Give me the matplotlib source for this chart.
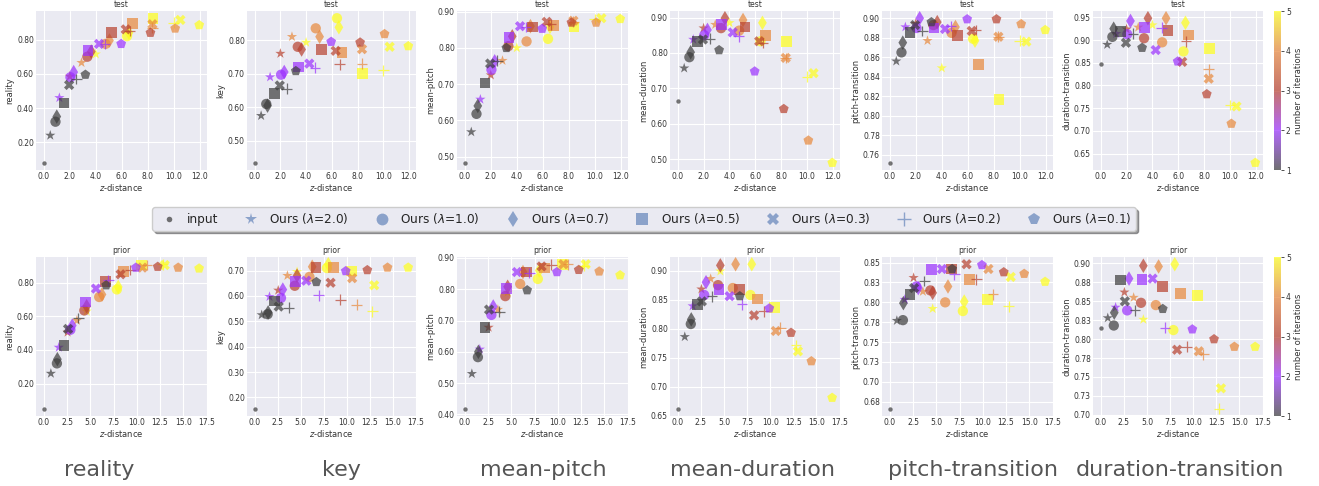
import numpy as np
import matplotlib
matplotlib.use("Agg")
import matplotlib.pyplot as plt
from matplotlib.colors import LinearSegmentedColormap
from matplotlib.lines import Line2D
from matplotlib.ticker import MultipleLocator, FormatStrFormatter
import seaborn as sns

sns.set_style("darkgrid")
plt.rcParams['font.family'] = ['DejaVu Sans']

# ---------------- data ----------------
lambdas = ["2.0", "1.0", "0.7", "0.5", "0.3", "0.2", "0.1"]
markers = ["*", "o", "d", "s", "X", "+", "p"]
iterations = [1, 2, 3, 4, 5]
metrics = ["reality", "key", "mean-pitch", "mean-duration", "pitch-transition", "duration-transition"]

# z-distance per lambda (iterations 1..5)
z_test = {
    "2.0": [0.5, 1.2, 2.0, 2.9, 4.0],
    "1.0": [0.9, 2.05, 3.35, 4.75, 6.4],
    "0.7": [1.0, 2.3, 3.65, 5.05, 6.55],
    "0.5": [1.55, 3.4, 5.2, 6.8, 8.4],
    "0.3": [1.95, 4.25, 6.3, 8.35, 10.5],
    "0.2": [2.5, 4.7, 6.6, 8.35, 10.0],
    "0.1": [3.2, 5.95, 8.2, 10.1, 11.95],
}
z_prior = {
    "2.0": [0.75, 1.6, 2.55, 3.55, 4.6],
    "1.0": [1.4, 2.85, 4.35, 5.95, 7.85],
    "0.7": [1.45, 3.05, 4.6, 6.25, 8.0],
    "0.5": [2.15, 4.45, 6.65, 8.6, 10.5],
    "0.3": [2.6, 5.6, 8.25, 10.6, 13.0],
    "0.2": [3.7, 6.95, 9.3, 11.1, 12.8],
    "0.1": [6.7, 9.9, 12.25, 14.45, 16.7],
}

# test row values
test_input = [0.08, 0.435, 0.483, 0.663, 0.752, 0.848]
test_reality = {
    "2.0": [0.24, 0.46, 0.585, 0.665, 0.715],
    "1.0": [0.32, 0.58, 0.70, 0.775, 0.82],
    "0.7": [0.35, 0.61, 0.73, 0.795, 0.84],
    "0.5": [0.43, 0.735, 0.84, 0.895, 0.925],
    "0.3": [0.535, 0.775, 0.86, 0.89, 0.915],
    "0.2": [0.57, 0.775, 0.85, 0.87, 0.90],
    "0.1": [0.595, 0.775, 0.84, 0.865, 0.885],
}
test_key = {
    "2.0": [0.575, 0.69, 0.76, 0.81, 0.793],
    "1.0": [0.61, 0.697, 0.78, 0.835, 0.865],
    "0.7": [0.605, 0.705, 0.772, 0.81, 0.838],
    "0.5": [0.64, 0.72, 0.772, 0.762, 0.70],
    "0.3": [0.665, 0.73, 0.768, 0.773, 0.78],
    "0.2": [0.655, 0.718, 0.728, 0.73, 0.71],
    "0.1": [0.708, 0.795, 0.793, 0.818, 0.782],
}
test_mean_pitch = {
    "2.0": [0.568, 0.658, 0.725, 0.765, 0.80],
    "1.0": [0.618, 0.74, 0.805, 0.818, 0.825],
    "0.7": [0.64, 0.763, 0.832, 0.86, 0.858],
    "0.5": [0.703, 0.828, 0.858, 0.862, 0.858],
    "0.3": [0.757, 0.86, 0.872, 0.875, 0.882],
    "0.2": [0.765, 0.858, 0.865, 0.872, 0.88],
    "0.1": [0.80, 0.853, 0.87, 0.87, 0.88],
}
test_mean_duration = {
    "2.0": [0.757, 0.838, 0.87, 0.88, 0.885],
    "1.0": [0.788, 0.85, 0.87, 0.863, 0.833],
    "0.7": [0.802, 0.865, 0.898, 0.893, 0.885],
    "0.5": [0.832, 0.88, 0.873, 0.85, 0.832],
    "0.3": [0.838, 0.858, 0.833, 0.786, 0.743],
    "0.2": [0.84, 0.847, 0.828, 0.786, 0.733],
    "0.1": [0.808, 0.748, 0.642, 0.553, 0.49],
}
test_pitch_transition = {
    "2.0": [0.856, 0.891, 0.8945, 0.877, 0.849],
    "1.0": [0.865, 0.890, 0.893, 0.885, 0.879],
    "0.7": [0.875, 0.900, 0.896, 0.891, 0.877],
    "0.5": [0.885, 0.890, 0.882, 0.853, 0.817],
    "0.3": [0.893, 0.889, 0.887, 0.881, 0.876],
    "0.2": [0.887, 0.892, 0.888, 0.881, 0.877],
    "0.1": [0.896, 0.899, 0.899, 0.894, 0.888],
}
test_duration_transition = {
    "2.0": [0.890, 0.914, 0.924, 0.928, 0.933],
    "1.0": [0.907, 0.913, 0.904, 0.895, 0.875],
    "0.7": [0.925, 0.942, 0.948, 0.948, 0.938],
    "0.5": [0.919, 0.927, 0.921, 0.911, 0.882],
    "0.3": [0.894, 0.878, 0.852, 0.815, 0.754],
    "0.2": [0.914, 0.927, 0.897, 0.836, 0.757],
    "0.1": [0.883, 0.853, 0.781, 0.716, 0.630],
}

# prior row values
prior_input = [0.05, 0.155, 0.418, 0.662, 0.666, 0.815]
prior_reality = {
    "2.0": [0.26, 0.415, 0.505, 0.575, 0.63],
    "1.0": [0.32, 0.52, 0.635, 0.715, 0.76],
    "0.7": [0.345, 0.545, 0.66, 0.73, 0.775],
    "0.5": [0.425, 0.685, 0.805, 0.865, 0.905],
    "0.3": [0.525, 0.765, 0.85, 0.89, 0.905],
    "0.2": [0.59, 0.815, 0.875, 0.905, 0.91],
    "0.1": [0.785, 0.89, 0.895, 0.89, 0.885],
}
prior_key = {
    "2.0": [0.525, 0.597, 0.622, 0.68, 0.695],
    "1.0": [0.528, 0.592, 0.64, 0.675, 0.71],
    "0.7": [0.535, 0.625, 0.68, 0.715, 0.725],
    "0.5": [0.58, 0.658, 0.712, 0.712, 0.698],
    "0.3": [0.558, 0.66, 0.652, 0.67, 0.642],
    "0.2": [0.553, 0.602, 0.585, 0.565, 0.54],
    "0.1": [0.655, 0.698, 0.702, 0.712, 0.712],
}
prior_mean_pitch = {
    "2.0": [0.53, 0.608, 0.678, 0.735, 0.79],
    "1.0": [0.583, 0.718, 0.778, 0.817, 0.833],
    "0.7": [0.60, 0.745, 0.808, 0.855, 0.86],
    "0.5": [0.678, 0.803, 0.855, 0.868, 0.878],
    "0.3": [0.735, 0.855, 0.873, 0.88, 0.88],
    "0.2": [0.728, 0.852, 0.878, 0.88, 0.875],
    "0.1": [0.797, 0.855, 0.862, 0.857, 0.845],
}
prior_mean_duration = {
    "2.0": [0.786, 0.839, 0.868, 0.886, 0.899],
    "1.0": [0.808, 0.858, 0.875, 0.870, 0.858],
    "0.7": [0.816, 0.880, 0.909, 0.911, 0.911],
    "0.5": [0.841, 0.868, 0.867, 0.851, 0.836],
    "0.3": [0.847, 0.856, 0.823, 0.796, 0.761],
    "0.2": [0.856, 0.842, 0.830, 0.802, 0.771],
    "0.1": [0.856, 0.835, 0.793, 0.744, 0.681],
}
prior_pitch_transition = {
    "2.0": [0.777, 0.8035, 0.831, 0.8136, 0.792],
    "1.0": [0.7776, 0.820, 0.815, 0.800, 0.789],
    "0.7": [0.799, 0.818, 0.812, 0.820, 0.801],
    "0.5": [0.810, 0.841, 0.842, 0.829, 0.804],
    "0.3": [0.818, 0.842, 0.848, 0.842, 0.832],
    "0.2": [0.827, 0.8355, 0.829, 0.810, 0.795],
    "0.1": [0.842, 0.847, 0.838, 0.836, 0.826],
}
prior_duration_transition = {
    "2.0": [0.828, 0.842, 0.862, 0.855, 0.826],
    "1.0": [0.818, 0.838, 0.848, 0.845, 0.812],
    "0.7": [0.835, 0.880, 0.897, 0.896, 0.899],
    "0.5": [0.878, 0.879, 0.870, 0.860, 0.858],
    "0.3": [0.850, 0.880, 0.786, 0.784, 0.735],
    "0.2": [0.838, 0.815, 0.790, 0.780, 0.708],
    "0.1": [0.840, 0.813, 0.800, 0.790, 0.790],
}

test_vals = [test_reality, test_key, test_mean_pitch, test_mean_duration,
             test_pitch_transition, test_duration_transition]
prior_vals = [prior_reality, prior_key, prior_mean_pitch, prior_mean_duration,
              prior_pitch_transition, prior_duration_transition]

test_ystep = [0.2, 0.1, 0.1, 0.1, 0.02, 0.05]
prior_ystep = [0.2, 0.1, 0.1, 0.05, 0.025, 0.025]

# ---------------- style ----------------
cmap = LinearSegmentedColormap.from_list(
    "iters", ["#3c3c3c", "#9b30ff", "#b8402e", "#e8873a", "#ffff1a"])
ALPHA = 0.7

W, H = 1319, 486
fig = plt.figure(figsize=(W / 100, H / 100), dpi=100)
fig.patch.set_facecolor("white")

xs = [(36, 207), (247, 416), (457, 628), (670, 840), (882, 1053), (1093, 1263)]
rows = [(11, 170), (257, 416)]


def px_axes(x0, x1, y0, y1):
    return fig.add_axes([x0 / W, 1 - y1 / H, (x1 - x0) / W, (y1 - y0) / H])


sc_last = None
for r, (row_name, zd, vals, inp, steps) in enumerate([
        ("test", z_test, test_vals, test_input, test_ystep),
        ("prior", z_prior, prior_vals, prior_input, prior_ystep)]):
    for c in range(6):
        ax = px_axes(xs[c][0], xs[c][1], rows[r][0], rows[r][1])
        ax.set_facecolor("#eaeaf2")
        ax.grid(True, color="white", linewidth=0.8)
        for s in ax.spines.values():
            s.set_visible(False)
        ax.scatter([0.0], [inp[c]], s=10, color="#3a3a3a", alpha=ALPHA,
                   linewidths=0, zorder=3)
        for lam, mk in zip(lambdas, markers):
            if mk == "+":
                kw = dict(s=60, linewidths=0.9)
            elif mk in ("*", "s"):
                kw = dict(s=60, linewidths=0)
            else:
                kw = dict(s=55, linewidths=0)
            sc_last = ax.scatter(zd[lam], vals[c][lam], c=iterations, cmap=cmap,
                                 vmin=1, vmax=5, marker=mk, alpha=ALPHA,
                                 zorder=3, **kw)
        ax.set_title(row_name, fontsize=5.5, pad=3, color="#333333")
        ax.set_ylabel(metrics[c], fontsize=6, labelpad=2, color="#333333")
        ax.set_xlabel("$z$-distance", fontsize=6, labelpad=1, color="#333333")
        ax.yaxis.set_major_locator(MultipleLocator(steps[c]))
        ax.yaxis.set_major_formatter(FormatStrFormatter("%.2f"))
        if r == 0:
            ax.xaxis.set_major_locator(MultipleLocator(2.0))
        else:
            ax.xaxis.set_major_locator(MultipleLocator(2.5))
        ax.xaxis.set_major_formatter(FormatStrFormatter("%.1f"))
        ax.tick_params(labelsize=5.5, pad=1.5, colors="#333333", length=0)
        if r == 1:
            ax.set_xlim(-0.85, 17.55)

    # colorbar
    cax = px_axes(1274, 1281, rows[r][0], rows[r][1])
    cb = fig.colorbar(sc_last, cax=cax, ticks=[1, 2, 3, 4, 5])
    cb.solids.set_alpha(ALPHA)
    cb.outline.set_visible(False)
    cb.ax.tick_params(labelsize=5.5, length=2, width=0.6, pad=1.5, colors="#333333")
    cb.set_label("number of iterations", fontsize=6, labelpad=2, color="#333333")

# legend
handles = [Line2D([], [], linestyle="none", marker="o", markersize=4,
                  color="#3a3a3a", alpha=ALPHA, markeredgewidth=0)]
labels = ["input"]
for lam, mk in zip(lambdas, markers):
    handles.append(Line2D([], [], linestyle="none", marker=mk,
                          markersize=8.5 if mk != "+" else 9.5,
                          color="#4c72b0", alpha=0.6,
                          markeredgewidth=0 if mk != "+" else 1.0))
    labels.append("Ours ($\\lambda$=%s)" % lam)
leg = fig.legend(handles, labels, loc="center", ncol=8,
                 bbox_to_anchor=(644 / W, 1 - 219 / H), fontsize=8.7,
                 frameon=True, shadow=True, handletextpad=0.5,
                 columnspacing=1.75, borderpad=0.35)
leg.get_frame().set_facecolor("#eaeaf2")
leg.get_frame().set_edgecolor("#cccccc")

# big bottom labels
centers = [99, 341, 543, 753, 973, 1180]
for cx, name in zip(centers, metrics):
    fig.text(cx / W, 1 - 470 / H, name, ha="center", va="center",
             fontsize=16, color="#555555")

fig.savefig("out.png", dpi=100)
